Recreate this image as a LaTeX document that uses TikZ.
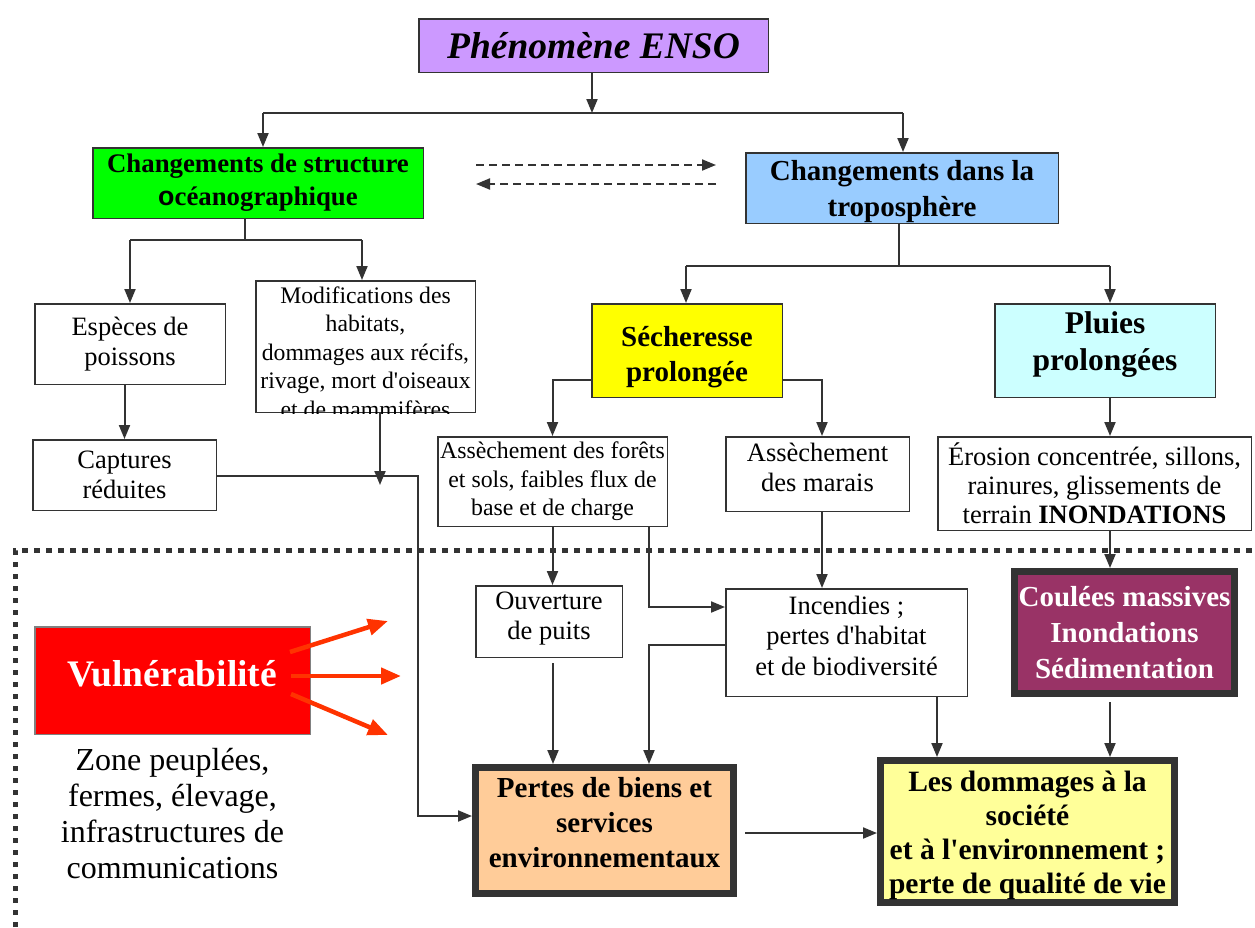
\documentclass[tikz,border=0pt]{standalone}
\usepackage{fontspec}
\setmainfont{Liberation Serif}
\newfontfamily\plainserif{Liberation Serif}
\newfontfamily\sansglyph{Liberation Sans}
\usetikzlibrary{arrows.meta}

\newcommand\apos{{\plainserif'}}

\definecolor{edge}{HTML}{333333}
\definecolor{lavender}{HTML}{CC99FF}
\definecolor{ocean}{HTML}{00FF00}
\definecolor{sky}{HTML}{99CCFF}
\definecolor{drought}{HTML}{FFFF00}
\definecolor{rain}{HTML}{CCFFFF}
\definecolor{plum}{HTML}{993366}
\definecolor{alarm}{HTML}{FF0000}
\definecolor{redarrow}{HTML}{FF3300}
\definecolor{peach}{HTML}{FFCC99}
\definecolor{paleyellow}{HTML}{FFFF99}

\tikzset{
  box/.style={draw=edge, line width=1.5pt, align=center, inner sep=0pt,
    font=\fontsize{26.5}{30}\selectfont},
  heavybox/.style={box, line width=7pt},
  conn/.style={draw=edge, line width=2pt, -{Triangle[width=11pt,length=14pt]}},
  link/.style={draw=edge, line width=2pt},
  dashconn/.style={conn, dash pattern=on 8pt off 5pt},
  redconn/.style={draw=redarrow, line width=4.5pt, -{Triangle[width=16pt,length=20pt]}},
}

\begin{document}
\begin{tikzpicture}[x=1pt,y=-1pt]
\useasboundingbox (0,0) rectangle (1255,927);

% dotted frame of the impact zone
\draw[edge, line width=5pt, dash pattern=on 5.5pt off 6.5pt] (15,927) -- (15,550) -- (1255,550);

% top level
\node[box, fill=lavender, minimum width=349.5pt, minimum height=53.5pt,
  font=\bfseries\itshape\fontsize{37.5}{40}\selectfont] (enso) at (593.5,45.5) {Phénomène ENSO};

\node[box, fill=ocean, minimum width=330.5pt, minimum height=70.5pt,
  font=\bfseries\fontsize{26.8}{33}\selectfont] (ocean) at (258,183)
  {Changements de structure\\{\sansglyph o}céanographique};
\node[box, fill=sky, minimum width=312.5pt, minimum height=70.5pt, text height=63.5pt,
  font=\bfseries\fontsize{29}{36}\selectfont] (tropo) at (902,188)
  {Changements dans la\\troposphère};

% oceanic branch
\node[box, minimum width=190.5pt, minimum height=80.5pt] (especes) at (130,344) {Espèces de\\poissons};
\node[box, minimum width=183.5pt, minimum height=70.5pt] (captures) at (124.5,475) {Captures\\réduites};
\node[box, minimum width=219.5pt, minimum height=131.5pt] (modif) at (365.5,346.5) {};
\begin{scope}
  \clip (255,280) rectangle (476,413);
  \node[align=center, inner sep=0pt, anchor=north, font=\fontsize{23.7}{28.5}\selectfont]
    (modiftext) at (365.5,286.5) {Modifications des\\habitats,\\dommages aux récifs,\\rivage, mort d\apos oiseaux\\et de mammifères};
\end{scope}

% tropospheric branch
\node[box, fill=drought, minimum width=190.5pt, minimum height=93.5pt, text height=69pt,
  font=\bfseries\fontsize{29}{35}\selectfont] (seche) at (687,350.5) {Sécheresse\\prolongée};
\node[box, fill=rain, minimum width=220.5pt, minimum height=93.5pt, text depth=19pt,
  font=\bfseries\fontsize{31.5}{37}\selectfont] (pluies) at (1105,350.5) {Pluies\\prolongées};
\node[box, minimum width=229.5pt, minimum height=89.5pt, font=\fontsize{23.8}{28.5}\selectfont] (forets) at (552.5,481.5)
  {Assèchement des forêts\\et sols, faibles flux de\\base et de charge};
\node[box, minimum width=183.5pt, minimum height=74.5pt, text depth=14pt] (marais) at (817.5,474) {Assèchement\\des marais};
\node[box, minimum width=313.5pt, minimum height=93.5pt, font=\fontsize{26.5}{29}\selectfont] (erosion) at (1094.5,483.5)
  {Érosion concentrée, sillons,\\rainures, glissements de\\terrain \textbf{INONDATIONS}};

% impacts
\node[box, minimum width=146.5pt, minimum height=71.5pt, text depth=12pt] (ouverture) at (549,621.5) {Ouverture\\de puits};
\node[box, minimum width=241.5pt, minimum height=107.5pt, font=\fontsize{26.5}{30.5}\selectfont,
  text depth=14pt] (incendies) at (846.5,642.5)
  {Incendies ;\\pertes d\apos habitat\\et de biodiversité};
\node[heavybox, fill=plum, text=white, minimum width=220pt, minimum height=122pt,
  font=\bfseries\fontsize{29}{36}\selectfont] (coulees) at (1124.5,632.5)
  {Coulées massives\\Inondations\\Sédimentation};
\node[box, draw=gray, fill=alarm, text=white, minimum width=275.5pt, minimum height=107.5pt,
  text depth=14pt, font=\bfseries\fontsize{37.5}{40}\selectfont] (vulner) at (172.5,680.5) {Vulnérabilité};
\node[align=center, inner sep=0pt, anchor=north, font=\fontsize{32}{36}\selectfont] (zone) at (172.5,748)
  {Zone peuplées,\\fermes, élevage,\\infrastructures de\\communications};
\node[heavybox, fill=peach, minimum width=258pt, minimum height=126pt, text depth=16pt,
  font=\bfseries\fontsize{29}{35}\selectfont] (pertes) at (604.5,830.5)
  {Pertes de biens et\\services\\environnementaux};
\node[heavybox, fill=paleyellow, minimum width=294pt, minimum height=142pt, text height=130.5pt,
  font=\bfseries\fontsize{29.5}{34}\selectfont] (dommages) at (1027.5,831.5)
  {Les dommages à la\\société\\et à l\apos environnement ;\\perte de qualité de vie};

% connectors: top
\coordinate (j1) at (592,113);
\draw[conn] (enso.south -| j1) -- (j1);
\draw[link] ([xshift=5pt]ocean.north |- j1) -- ([xshift=1pt]tropo.north |- j1);
\draw[conn] ([xshift=5pt]ocean.north |- j1) -- ([xshift=5pt]ocean.north);
\draw[conn] ([xshift=1pt]tropo.north |- j1) -- ([xshift=1pt]tropo.north);

% two-way coupling between ocean and atmosphere
\coordinate (d1) at (476,165);
\coordinate (d2) at (716,165);
\coordinate (d3) at (716,184);
\coordinate (d4) at (476,184);
\draw[dashconn] (d1) -- (d2);
\draw[dashconn] (d3) -- (d4);

% oceanic branch
\coordinate (j2) at (245,240);
\draw[link] (j2 |- ocean.south) -- (j2);
\draw[link] (especes.north |- j2) -- ([xshift=-3.5pt]modif.north |- j2);
\draw[conn] (especes.north |- j2) -- (especes.north);
\draw[conn] ([xshift=-3.5pt]modif.north |- j2) -- ([xshift=-3.5pt]modif.north);
\draw[conn] (captures.north |- especes.south) -- (captures.north);
\coordinate (mend) at (380,485);
\draw[conn] (mend |- modif.south) -- (mend);
\coordinate (cbend) at (418,476);
\draw[conn] (captures.east |- cbend) -- (cbend) |- ([yshift=14.5pt]pertes.west);

% tropospheric branch
\coordinate (j3) at (899,266);
\draw[link] (j3 |- tropo.south) -- (j3);
\draw[link] ([xshift=-1pt]seche.north |- j3) -- ([xshift=5pt]pluies.north |- j3);
\draw[conn] ([xshift=-1pt]seche.north |- j3) -- ([xshift=-1pt]seche.north);
\draw[conn] ([xshift=5pt]pluies.north |- j3) -- ([xshift=5pt]pluies.north);
\draw[conn] ([yshift=-29.5pt]seche.west) -| (forets.north);
\draw[conn] ([yshift=-29.5pt]seche.east) -| ([xshift=4.5pt]marais.north);
\draw[conn] ([xshift=5pt]pluies.south) -- ([xshift=5pt]pluies.south |- erosion.north);

% impacts
\draw[conn] ([xshift=15.5pt]erosion.south) -- ([xshift=15.5pt]erosion.south |- coulees.north);
\draw[conn] (forets.south) -- (forets.south |- ouverture.north);
\draw[conn] ([xshift=96.5pt]forets.south) |- ([yshift=35.5pt]incendies.west);
\draw[conn] ([yshift=-2.5pt]incendies.west) -| ([xshift=44.5pt]pertes.north);
\draw[conn] ([xshift=4pt,yshift=-5pt]ouverture.south) -- ([xshift=4pt]ouverture.south |- pertes.north);
\draw[conn] ([xshift=4.5pt]marais.south) -- ([xshift=4.5pt]marais.south |- incendies.north);
\draw[conn] ([xshift=90.5pt]incendies.south) -- ([xshift=90.5pt]incendies.south |- dommages.north);
\coordinate (c1) at ([xshift=-14.5pt,yshift=-5pt]coulees.south);
\draw[conn] (c1) -- (c1 |- dommages.north);
\coordinate (p1) at ([xshift=8pt,yshift=-2.5pt]pertes.east);
\draw[conn] (p1) -- (p1 -| dommages.west);

% vulnerability fans out into the impact zone
\coordinate (v1) at (388,621);
\coordinate (v2) at (401,676);
\coordinate (v3) at (388,735);
\draw[redconn] ([shift={(117.5,-28.5)}]vulner.center) -- (v1);
\draw[redconn] ([shift={(118.5,-4.5)}]vulner.center) -- (v2);
\draw[redconn] ([shift={(118.5,13.5)}]vulner.center) -- (v3);
\end{tikzpicture}
\end{document}
